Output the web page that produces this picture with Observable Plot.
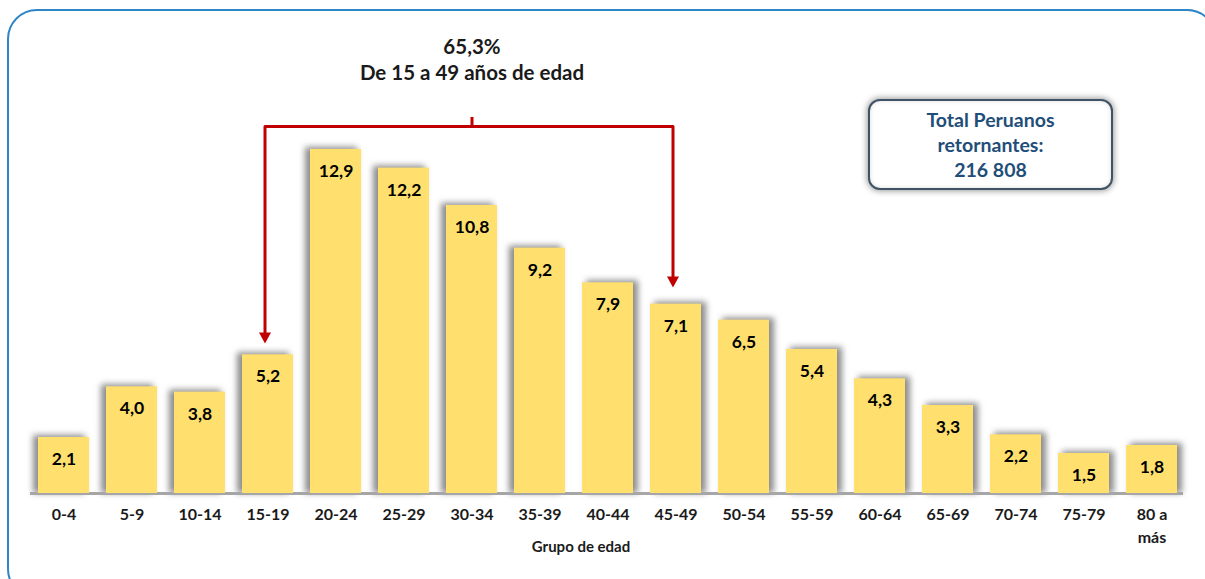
<!DOCTYPE html>
<html>
<head>
<meta charset="utf-8">
<script src="https://cdn.jsdelivr.net/npm/d3@7"></script>
<script src="https://cdn.jsdelivr.net/npm/@observablehq/plot@0.6"></script>
<style>
  html, body { margin: 0; padding: 0; background: #fff; overflow: hidden; }
  #wrap { position: relative; width: 1205px; height: 579px; overflow: hidden; font-family: Lato, "Open Sans", sans-serif; }
  #frame { position: absolute; left: 7px; top: 9px; width: 1210px; height: 590px; border: 2.5px solid #2E86C8; border-radius: 30px; box-sizing: border-box; }
  #chart { position: absolute; left: 0; top: 0; }
  #chart svg { display: block; }
  #total { position: absolute; left: 868px; top: 99px; width: 245px; height: 91px; box-sizing: border-box;
           border: 2.5px solid #3f5366; border-radius: 12px; background: #fff;
           box-shadow: 0 0 6px 1px rgba(0,0,0,0.4), inset 0 0 4px rgba(0,0,0,0.15);
           color: #1F4E79; font-weight: bold; font-size: 19.5px; line-height: 25px; text-align: center; padding-top: 6px; }
</style>
</head>
<body>
<div id="wrap">
  <div id="frame"></div>
  <div id="chart"></div>
  <div id="total"></div>
</div>
<script>
// ---- data ----
const categories = ["0-4","5-9","10-14","15-19","20-24","25-29","30-34","35-39","40-44","45-49","50-54","55-59","60-64","65-69","70-74","75-79","80 a\nmás"];
const values = [2.1, 4.0, 3.8, 5.2, 12.9, 12.2, 10.8, 9.2, 7.9, 7.1, 6.5, 5.4, 4.3, 3.3, 2.2, 1.5, 1.8];
const titleLines = ["65,3%", "De 15 a 49 años de edad"];
const titleLevels = [16.72, 15.75];
const titleCategory = "30-34";
const bracketFrom = "15-19";
const bracketTo = "45-49";
const bracketLevel = 13.76;
const bracketTickTop = 14.1;
const arrowTips = [5.62, 7.72];
const axisTitle = "Grupo de edad";
const totalLines = ["Total Peruanos", "retornantes:", "216 808"];

// ---- build ----
const data = categories.map((c, i) => ({cat: c, value: values[i], label: values[i].toFixed(1).replace(".", ","), i}));
const pxPerUnit = 26.67;
const headLen = 11 / pxPerUnit;
const bracket = [
  {x: bracketFrom, y: arrowTips[0] + headLen},
  {x: bracketFrom, y: bracketLevel},
  {x: bracketTo, y: bracketLevel},
  {x: bracketTo, y: arrowTips[1] + headLen}
];
const heads = [{x: bracketFrom, y: arrowTips[0]}, {x: bracketTo, y: arrowTips[1]}];
const downTriangle = {
  draw(ctx) { ctx.moveTo(-6, -11); ctx.lineTo(6, -11); ctx.lineTo(0, 0); ctx.closePath(); }
};
const red = "#C00000";
const font = "Lato, 'Open Sans', sans-serif";

const plot = Plot.plot({
  width: 1205,
  height: 579,
  marginLeft: 30,
  marginRight: 22,
  marginTop: 0,
  marginBottom: 86,
  style: {fontFamily: font, background: "transparent"},
  x: {domain: categories, axis: null, range: [38, 1177], paddingInner: 0.25, paddingOuter: 0},
  y: {domain: [0, 493 / pxPerUnit], axis: null},
  marks: [
    // soft shadows behind bars
    Plot.barY(data.filter(d => d.i < 8), {x: "cat", y: "value", fill: "#8c8c8c", dx: -4, insetTop: -2, insetLeft: -1}),
    Plot.barY(data.filter(d => d.i >= 8), {x: "cat", y: "value", fill: "#8c8c8c", dx: 4, insetTop: -2, insetRight: -1}),
    // floor
    Plot.ruleY([0], {stroke: "#bdbdbd", strokeWidth: 6, dy: 3}),
    Plot.ruleY([0], {stroke: "#a6a6a6", strokeWidth: 3}),
    Plot.barY(data, {x: "cat", y: "value", fill: "#FFE06E"}),
    Plot.text(data, {x: "cat", y: "value", text: "label", dy: 22, lineAnchor: "middle", fontSize: 17.5, fontWeight: "bold", fill: "#000"}),
    Plot.text(data, {x: "cat", y: () => 0, text: "cat", dy: 10, lineAnchor: "top", lineHeight: 1.45, fontSize: 16, fontWeight: "bold", fill: "#1a1a1a"}),
    Plot.text([axisTitle], {frameAnchor: "bottom", text: d => d, dx: -26, dy: 58, fontSize: 15, fontWeight: "bold", fill: "#1a1a1a"}),
    Plot.text(titleLines, {x: () => titleCategory, y: (d, i) => titleLevels[i], text: d => d, fontSize: 20.5, fontWeight: "bold", fill: "#1a1a1a"}),
    Plot.line(bracket, {x: "x", y: "y", stroke: red, strokeWidth: 3, strokeLinejoin: "round", dx: -3}),
    Plot.ruleX([titleCategory], {y1: bracketLevel, y2: bracketTickTop, stroke: red, strokeWidth: 3}),
    Plot.dot(heads, {x: "x", y: "y", symbol: downTriangle, fill: red, stroke: "none", dx: -3})
  ]
});
document.getElementById("chart").appendChild(plot);

// blur filter for shadows
const svg = d3.select(plot);
const defs = svg.insert("defs", ":first-child");
defs.append("filter").attr("id", "soft").attr("x", "-50%").attr("y", "-50%").attr("width", "200%").attr("height", "200%")
  .append("feGaussianBlur").attr("stdDeviation", 3);
defs.append("filter").attr("id", "soft2").attr("x", "-50%").attr("y", "-50%").attr("width", "200%").attr("height", "200%")
  .append("feGaussianBlur").attr("stdDeviation", 2);
const barGroups = plot.querySelectorAll('g[aria-label="bar"]');
barGroups[0].setAttribute("filter", "url(#soft)");
barGroups[1].setAttribute("filter", "url(#soft)");
const ruleGroups = plot.querySelectorAll('g[aria-label="rule"]');
ruleGroups[0].setAttribute("filter", "url(#soft2)");

document.getElementById("total").innerHTML = totalLines.map(t => `<div>${t}</div>`).join("");
</script>
</body>
</html>
